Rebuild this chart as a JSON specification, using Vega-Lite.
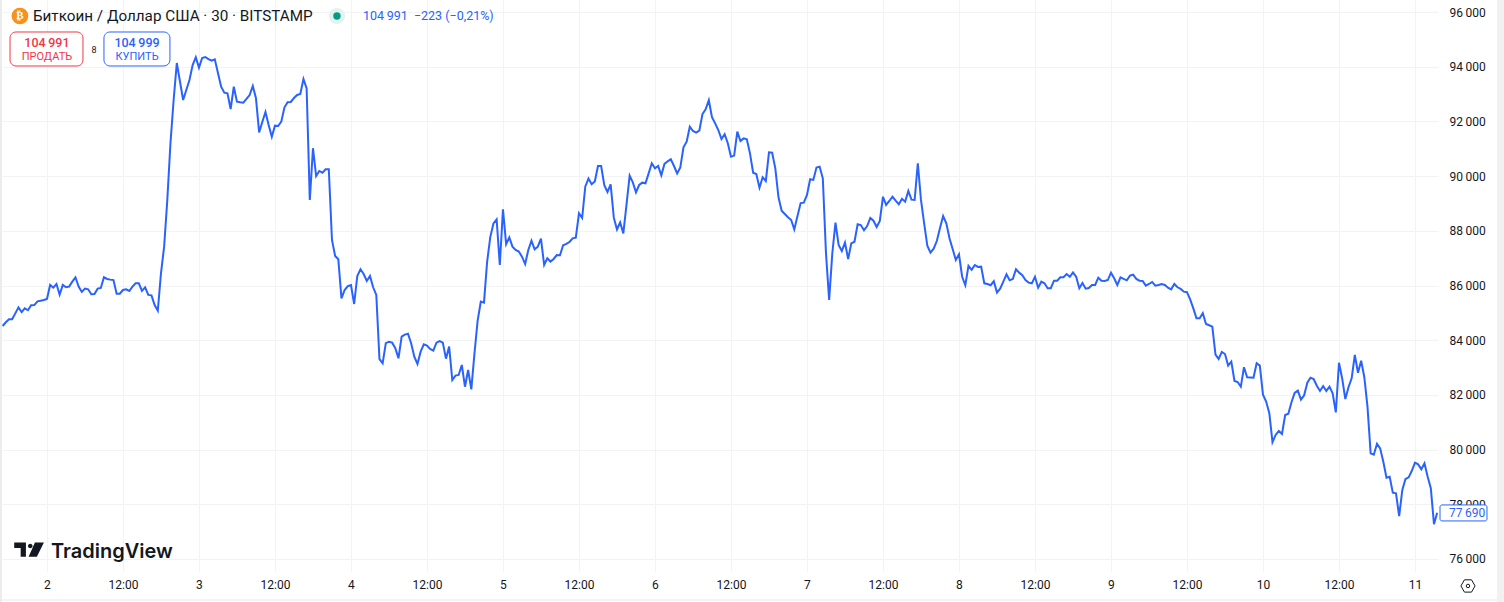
{"$schema":"https://vega.github.io/schema/vega-lite/v6.json","width":1436,"height":571,"autosize":{"type":"none"},"padding":{"left":2,"top":0,"right":66,"bottom":31},"background":"#ffffff","config":{"view":{"stroke":null},"font":"Roboto"},
"layer":[
{"data":{"values":[
{"t":"2025-04-01T17:00","v":84520},{"t":"2025-04-01T17:30","v":84655},{"t":"2025-04-01T18:00","v":84765},{"t":"2025-04-01T18:30","v":84765},{"t":"2025-04-01T19:00","v":84980},{"t":"2025-04-01T19:30","v":85200},{"t":"2025-04-01T20:00","v":85030},{"t":"2025-04-01T20:30","v":85165},{"t":"2025-04-01T21:00","v":85095},{"t":"2025-04-01T21:30","v":85275},{"t":"2025-04-01T22:00","v":85285},{"t":"2025-04-01T22:30","v":85420},{"t":"2025-04-01T23:00","v":85445},{"t":"2025-04-01T23:30","v":85470},
{"t":"2025-04-02T00:00","v":85505},{"t":"2025-04-02T00:30","v":86020},{"t":"2025-04-02T01:00","v":85920},{"t":"2025-04-02T01:30","v":86055},{"t":"2025-04-02T02:00","v":85665},{"t":"2025-04-02T02:30","v":86020},{"t":"2025-04-02T03:00","v":85935},{"t":"2025-04-02T03:30","v":85960},{"t":"2025-04-02T04:00","v":86140},{"t":"2025-04-02T04:30","v":86300},{"t":"2025-04-02T05:00","v":85960},{"t":"2025-04-02T05:30","v":85765},{"t":"2025-04-02T06:00","v":85885},{"t":"2025-04-02T06:30","v":85860},{"t":"2025-04-02T07:00","v":85680},{"t":"2025-04-02T07:30","v":85690},{"t":"2025-04-02T08:00","v":85885},{"t":"2025-04-02T08:30","v":85910},{"t":"2025-04-02T09:00","v":86300},{"t":"2025-04-02T09:30","v":86240},{"t":"2025-04-02T10:00","v":86215},{"t":"2025-04-02T10:30","v":86200},{"t":"2025-04-02T11:00","v":85700},{"t":"2025-04-02T11:30","v":85700},{"t":"2025-04-02T12:00","v":85835},{"t":"2025-04-02T12:30","v":85860},{"t":"2025-04-02T13:00","v":85800},{"t":"2025-04-02T13:30","v":85960},{"t":"2025-04-02T14:00","v":86080},{"t":"2025-04-02T14:30","v":86080},{"t":"2025-04-02T15:00","v":85800},{"t":"2025-04-02T15:30","v":85935},{"t":"2025-04-02T16:00","v":85655},{"t":"2025-04-02T16:30","v":85640},{"t":"2025-04-02T17:00","v":85285},{"t":"2025-04-02T17:30","v":85080},{"t":"2025-04-02T18:00","v":86445},{"t":"2025-04-02T18:30","v":87420},{"t":"2025-04-02T19:00","v":89127},{"t":"2025-04-02T19:30","v":91210},{"t":"2025-04-02T20:00","v":92783},{"t":"2025-04-02T20:30","v":94135},{"t":"2025-04-02T21:00","v":93460},{"t":"2025-04-02T21:30","v":92783},{"t":"2025-04-02T22:00","v":93148},{"t":"2025-04-02T22:30","v":93514},{"t":"2025-04-02T23:00","v":94062},{"t":"2025-04-02T23:30","v":94344},
{"t":"2025-04-03T00:00","v":93965},{"t":"2025-04-03T00:30","v":94318},{"t":"2025-04-03T01:00","v":94355},{"t":"2025-04-03T01:30","v":94280},{"t":"2025-04-03T02:00","v":94220},{"t":"2025-04-03T02:30","v":94270},{"t":"2025-04-03T03:00","v":93770},{"t":"2025-04-03T03:30","v":93270},{"t":"2025-04-03T04:00","v":93050},{"t":"2025-04-03T04:30","v":93025},{"t":"2025-04-03T05:00","v":92454},{"t":"2025-04-03T05:30","v":93270},{"t":"2025-04-03T06:00","v":92720},{"t":"2025-04-03T06:30","v":92700},{"t":"2025-04-03T07:00","v":92685},{"t":"2025-04-03T07:30","v":92820},{"t":"2025-04-03T08:00","v":92965},{"t":"2025-04-03T08:30","v":93295},{"t":"2025-04-03T09:00","v":92845},{"t":"2025-04-03T09:30","v":91600},{"t":"2025-04-03T10:00","v":91978},{"t":"2025-04-03T10:30","v":92344},{"t":"2025-04-03T11:00","v":91870},{"t":"2025-04-03T11:30","v":91440},{"t":"2025-04-03T12:00","v":91845},{"t":"2025-04-03T12:30","v":91830},{"t":"2025-04-03T13:00","v":91990},{"t":"2025-04-03T13:30","v":92515},{"t":"2025-04-03T14:00","v":92700},{"t":"2025-04-03T14:30","v":92710},{"t":"2025-04-03T15:00","v":92855},{"t":"2025-04-03T15:30","v":92965},{"t":"2025-04-03T16:00","v":93000},{"t":"2025-04-03T16:30","v":93550},{"t":"2025-04-03T17:00","v":93210},{"t":"2025-04-03T17:30","v":89127},{"t":"2025-04-03T18:00","v":91020},{"t":"2025-04-03T18:30","v":90004},{"t":"2025-04-03T19:00","v":90187},{"t":"2025-04-03T19:30","v":90125},{"t":"2025-04-03T20:00","v":90250},{"t":"2025-04-03T20:30","v":90250},{"t":"2025-04-03T21:00","v":87664},{"t":"2025-04-03T21:30","v":87080},{"t":"2025-04-03T22:00","v":86960},{"t":"2025-04-03T22:30","v":85530},{"t":"2025-04-03T23:00","v":85835},{"t":"2025-04-03T23:30","v":85980},
{"t":"2025-04-04T00:00","v":86015},{"t":"2025-04-04T00:30","v":85325},{"t":"2025-04-04T01:00","v":86350},{"t":"2025-04-04T01:30","v":86595},{"t":"2025-04-04T02:00","v":86420},{"t":"2025-04-04T02:30","v":86165},{"t":"2025-04-04T03:00","v":86350},{"t":"2025-04-04T03:30","v":85935},{"t":"2025-04-04T04:00","v":85655},{"t":"2025-04-04T04:30","v":83305},{"t":"2025-04-04T05:00","v":83155},{"t":"2025-04-04T05:30","v":83890},{"t":"2025-04-04T06:00","v":83945},{"t":"2025-04-04T06:30","v":83910},{"t":"2025-04-04T07:00","v":83705},{"t":"2025-04-04T07:30","v":83340},{"t":"2025-04-04T08:00","v":84130},{"t":"2025-04-04T08:30","v":84205},{"t":"2025-04-04T09:00","v":84240},{"t":"2025-04-04T09:30","v":83890},{"t":"2025-04-04T10:00","v":83400},{"t":"2025-04-04T10:30","v":83130},{"t":"2025-04-04T11:00","v":83580},{"t":"2025-04-04T11:30","v":83850},{"t":"2025-04-04T12:00","v":83800},{"t":"2025-04-04T12:30","v":83680},{"t":"2025-04-04T13:00","v":83620},{"t":"2025-04-04T13:30","v":83910},{"t":"2025-04-04T14:00","v":83970},{"t":"2025-04-04T14:30","v":83910},{"t":"2025-04-04T15:00","v":83325},{"t":"2025-04-04T15:30","v":83765},{"t":"2025-04-04T16:00","v":82545},{"t":"2025-04-04T16:30","v":82705},{"t":"2025-04-04T17:00","v":82730},{"t":"2025-04-04T17:30","v":83095},{"t":"2025-04-04T18:00","v":82300},{"t":"2025-04-04T18:30","v":82910},{"t":"2025-04-04T19:00","v":82205},{"t":"2025-04-04T19:30","v":83520},{"t":"2025-04-04T20:00","v":84715},{"t":"2025-04-04T20:30","v":85410},{"t":"2025-04-04T21:00","v":85375},{"t":"2025-04-04T21:30","v":86870},{"t":"2025-04-04T22:00","v":87780},{"t":"2025-04-04T22:30","v":88270},{"t":"2025-04-04T23:00","v":88415},{"t":"2025-04-04T23:30","v":86750},
{"t":"2025-04-05T00:00","v":88785},{"t":"2025-04-05T00:30","v":87510},{"t":"2025-04-05T01:00","v":87760},{"t":"2025-04-05T01:30","v":87420},{"t":"2025-04-05T02:00","v":87300},{"t":"2025-04-05T02:30","v":87240},{"t":"2025-04-05T03:00","v":87055},{"t":"2025-04-05T03:30","v":86785},{"t":"2025-04-05T04:00","v":87300},{"t":"2025-04-05T04:30","v":87640},{"t":"2025-04-05T05:00","v":87325},{"t":"2025-04-05T05:30","v":87420},{"t":"2025-04-05T06:00","v":87715},{"t":"2025-04-05T06:30","v":86750},{"t":"2025-04-05T07:00","v":86995},{"t":"2025-04-05T07:30","v":86875},{"t":"2025-04-05T08:00","v":86970},{"t":"2025-04-05T08:30","v":87115},{"t":"2025-04-05T09:00","v":87105},{"t":"2025-04-05T09:30","v":87470},{"t":"2025-04-05T10:00","v":87520},{"t":"2025-04-05T10:30","v":87590},{"t":"2025-04-05T11:00","v":87725},{"t":"2025-04-05T11:30","v":87750},{"t":"2025-04-05T12:00","v":88640},{"t":"2025-04-05T12:30","v":88470},{"t":"2025-04-05T13:00","v":89620},{"t":"2025-04-05T13:30","v":89910},{"t":"2025-04-05T14:00","v":89700},{"t":"2025-04-05T14:30","v":89800},{"t":"2025-04-05T15:00","v":90370},{"t":"2025-04-05T15:30","v":90370},{"t":"2025-04-05T16:00","v":89665},{"t":"2025-04-05T16:30","v":89420},{"t":"2025-04-05T17:00","v":89700},{"t":"2025-04-05T17:30","v":88480},{"t":"2025-04-05T18:00","v":88050},{"t":"2025-04-05T18:30","v":88310},{"t":"2025-04-05T19:00","v":87905},{"t":"2025-04-05T19:30","v":88945},{"t":"2025-04-05T20:00","v":90015},{"t":"2025-04-05T20:30","v":89770},{"t":"2025-04-05T21:00","v":89405},{"t":"2025-04-05T21:30","v":89675},{"t":"2025-04-05T22:00","v":89760},{"t":"2025-04-05T22:30","v":89735},{"t":"2025-04-05T23:00","v":90100},{"t":"2025-04-05T23:30","v":90470},
{"t":"2025-04-06T00:00","v":90285},{"t":"2025-04-06T00:30","v":90370},{"t":"2025-04-06T01:00","v":90030},{"t":"2025-04-06T01:30","v":90445},{"t":"2025-04-06T02:00","v":90540},{"t":"2025-04-06T02:30","v":90615},{"t":"2025-04-06T03:00","v":90370},{"t":"2025-04-06T03:30","v":90100},{"t":"2025-04-06T04:00","v":90320},{"t":"2025-04-06T04:30","v":91055},{"t":"2025-04-06T05:00","v":91260},{"t":"2025-04-06T05:30","v":91805},{"t":"2025-04-06T06:00","v":91650},{"t":"2025-04-06T06:30","v":91590},{"t":"2025-04-06T07:00","v":91660},{"t":"2025-04-06T07:30","v":92270},{"t":"2025-04-06T08:00","v":92445},{"t":"2025-04-06T08:30","v":92775},{"t":"2025-04-06T09:00","v":92155},{"t":"2025-04-06T09:30","v":91930},{"t":"2025-04-06T10:00","v":91685},{"t":"2025-04-06T10:30","v":91355},{"t":"2025-04-06T11:00","v":91530},{"t":"2025-04-06T11:30","v":91200},{"t":"2025-04-06T12:00","v":90710},{"t":"2025-04-06T12:30","v":90750},{"t":"2025-04-06T13:00","v":91625},{"t":"2025-04-06T13:30","v":91285},{"t":"2025-04-06T14:00","v":91380},{"t":"2025-04-06T14:30","v":91345},{"t":"2025-04-06T15:00","v":90830},{"t":"2025-04-06T15:30","v":90125},{"t":"2025-04-06T16:00","v":90075},{"t":"2025-04-06T16:30","v":89575},{"t":"2025-04-06T17:00","v":89955},{"t":"2025-04-06T17:30","v":89820},{"t":"2025-04-06T18:00","v":90870},{"t":"2025-04-06T18:30","v":90855},{"t":"2025-04-06T19:00","v":90285},{"t":"2025-04-06T19:30","v":89225},{"t":"2025-04-06T20:00","v":88735},{"t":"2025-04-06T20:30","v":88615},{"t":"2025-04-06T21:00","v":88495},{"t":"2025-04-06T21:30","v":88395},{"t":"2025-04-06T22:00","v":88050},{"t":"2025-04-06T22:30","v":88540},{"t":"2025-04-06T23:00","v":89015},{"t":"2025-04-06T23:30","v":89030},
{"t":"2025-04-07T00:00","v":89310},{"t":"2025-04-07T00:30","v":89885},{"t":"2025-04-07T01:00","v":89860},{"t":"2025-04-07T01:30","v":90310},{"t":"2025-04-07T02:00","v":90345},{"t":"2025-04-07T02:30","v":89920},{"t":"2025-04-07T03:00","v":87180},{"t":"2025-04-07T03:30","v":85470},{"t":"2025-04-07T04:00","v":87180},{"t":"2025-04-07T04:30","v":88300},{"t":"2025-04-07T05:00","v":87480},{"t":"2025-04-07T05:30","v":87260},{"t":"2025-04-07T06:00","v":87570},{"t":"2025-04-07T06:30","v":86970},{"t":"2025-04-07T07:00","v":87540},{"t":"2025-04-07T07:30","v":87600},{"t":"2025-04-07T08:00","v":88240},{"t":"2025-04-07T08:30","v":88210},{"t":"2025-04-07T09:00","v":88020},{"t":"2025-04-07T09:30","v":88175},{"t":"2025-04-07T10:00","v":88470},{"t":"2025-04-07T10:30","v":88370},{"t":"2025-04-07T11:00","v":88140},{"t":"2025-04-07T11:30","v":88360},{"t":"2025-04-07T12:00","v":89245},{"t":"2025-04-07T12:30","v":88945},{"t":"2025-04-07T13:00","v":89090},{"t":"2025-04-07T13:30","v":89245},{"t":"2025-04-07T14:00","v":89100},{"t":"2025-04-07T14:30","v":88970},{"t":"2025-04-07T15:00","v":89170},{"t":"2025-04-07T15:30","v":89065},{"t":"2025-04-07T16:00","v":89455},{"t":"2025-04-07T16:30","v":89140},{"t":"2025-04-07T17:00","v":89130},{"t":"2025-04-07T17:30","v":90470},{"t":"2025-04-07T18:00","v":89130},{"t":"2025-04-07T18:30","v":88275},{"t":"2025-04-07T19:00","v":87455},{"t":"2025-04-07T19:30","v":87200},{"t":"2025-04-07T20:00","v":87345},{"t":"2025-04-07T20:30","v":87625},{"t":"2025-04-07T21:00","v":88100},{"t":"2025-04-07T21:30","v":88540},{"t":"2025-04-07T22:00","v":88275},{"t":"2025-04-07T22:30","v":87725},{"t":"2025-04-07T23:00","v":87335},{"t":"2025-04-07T23:30","v":86935},
{"t":"2025-04-08T00:00","v":87140},{"t":"2025-04-08T00:30","v":86320},{"t":"2025-04-08T01:00","v":86010},{"t":"2025-04-08T01:30","v":86715},{"t":"2025-04-08T02:00","v":86570},{"t":"2025-04-08T02:30","v":86750},{"t":"2025-04-08T03:00","v":86680},{"t":"2025-04-08T03:30","v":86690},{"t":"2025-04-08T04:00","v":86080},{"t":"2025-04-08T04:30","v":86055},{"t":"2025-04-08T05:00","v":86010},{"t":"2025-04-08T05:30","v":86155},{"t":"2025-04-08T06:00","v":85740},{"t":"2025-04-08T06:30","v":85885},{"t":"2025-04-08T07:00","v":86140},{"t":"2025-04-08T07:30","v":86410},{"t":"2025-04-08T08:00","v":86190},{"t":"2025-04-08T08:30","v":86240},{"t":"2025-04-08T09:00","v":86595},{"t":"2025-04-08T09:30","v":86470},{"t":"2025-04-08T10:00","v":86375},{"t":"2025-04-08T10:30","v":86200},{"t":"2025-04-08T11:00","v":86105},{"t":"2025-04-08T11:30","v":86080},{"t":"2025-04-08T12:00","v":86320},{"t":"2025-04-08T12:30","v":85920},{"t":"2025-04-08T13:00","v":86140},{"t":"2025-04-08T13:30","v":86080},{"t":"2025-04-08T14:00","v":85900},{"t":"2025-04-08T14:30","v":85900},{"t":"2025-04-08T15:00","v":86175},{"t":"2025-04-08T15:30","v":86175},{"t":"2025-04-08T16:00","v":86300},{"t":"2025-04-08T16:30","v":86300},{"t":"2025-04-08T17:00","v":86420},{"t":"2025-04-08T17:30","v":86320},{"t":"2025-04-08T18:00","v":86480},{"t":"2025-04-08T18:30","v":86320},{"t":"2025-04-08T19:00","v":85900},{"t":"2025-04-08T19:30","v":86090},{"t":"2025-04-08T20:00","v":85885},{"t":"2025-04-08T20:30","v":85910},{"t":"2025-04-08T21:00","v":86020},{"t":"2025-04-08T21:30","v":86020},{"t":"2025-04-08T22:00","v":86285},{"t":"2025-04-08T22:30","v":86175},{"t":"2025-04-08T23:00","v":86165},{"t":"2025-04-08T23:30","v":86200},
{"t":"2025-04-09T00:00","v":86470},{"t":"2025-04-09T00:30","v":86265},{"t":"2025-04-09T01:00","v":86020},{"t":"2025-04-09T01:30","v":86300},{"t":"2025-04-09T02:00","v":86240},{"t":"2025-04-09T02:30","v":86190},{"t":"2025-04-09T03:00","v":86360},{"t":"2025-04-09T03:30","v":86395},{"t":"2025-04-09T04:00","v":86240},{"t":"2025-04-09T04:30","v":86175},{"t":"2025-04-09T05:00","v":86165},{"t":"2025-04-09T05:30","v":85995},{"t":"2025-04-09T06:00","v":86055},{"t":"2025-04-09T06:30","v":86130},{"t":"2025-04-09T07:00","v":85995},{"t":"2025-04-09T07:30","v":86020},{"t":"2025-04-09T08:00","v":86055},{"t":"2025-04-09T08:30","v":86020},{"t":"2025-04-09T09:00","v":85920},{"t":"2025-04-09T09:30","v":85860},{"t":"2025-04-09T10:00","v":86055},{"t":"2025-04-09T10:30","v":85935},{"t":"2025-04-09T11:00","v":85875},{"t":"2025-04-09T11:30","v":85775},{"t":"2025-04-09T12:00","v":85755},{"t":"2025-04-09T12:30","v":85495},{"t":"2025-04-09T13:00","v":85165},{"t":"2025-04-09T13:30","v":84800},{"t":"2025-04-09T14:00","v":84800},{"t":"2025-04-09T14:30","v":84985},{"t":"2025-04-09T15:00","v":84595},{"t":"2025-04-09T15:30","v":84545},{"t":"2025-04-09T16:00","v":84495},{"t":"2025-04-09T16:30","v":83470},{"t":"2025-04-09T17:00","v":83315},{"t":"2025-04-09T17:30","v":83570},{"t":"2025-04-09T18:00","v":83495},{"t":"2025-04-09T18:30","v":83070},{"t":"2025-04-09T19:00","v":83215},{"t":"2025-04-09T19:30","v":82510},{"t":"2025-04-09T20:00","v":82470},{"t":"2025-04-09T20:30","v":82300},{"t":"2025-04-09T21:00","v":83010},{"t":"2025-04-09T21:30","v":82645},{"t":"2025-04-09T22:00","v":82640},{"t":"2025-04-09T22:30","v":82630},{"t":"2025-04-09T23:00","v":83155},{"t":"2025-04-09T23:30","v":83070},
{"t":"2025-04-10T00:00","v":82010},{"t":"2025-04-10T00:30","v":81755},{"t":"2025-04-10T01:00","v":81330},{"t":"2025-04-10T01:30","v":80270},{"t":"2025-04-10T02:00","v":80535},{"t":"2025-04-10T02:30","v":80680},{"t":"2025-04-10T03:00","v":80570},{"t":"2025-04-10T03:30","v":81265},{"t":"2025-04-10T04:00","v":81310},{"t":"2025-04-10T04:30","v":81730},{"t":"2025-04-10T05:00","v":82070},{"t":"2025-04-10T05:30","v":82155},{"t":"2025-04-10T06:00","v":81825},{"t":"2025-04-10T06:30","v":81985},{"t":"2025-04-10T07:00","v":82445},{"t":"2025-04-10T07:30","v":82630},{"t":"2025-04-10T08:00","v":82580},{"t":"2025-04-10T08:30","v":82335},{"t":"2025-04-10T09:00","v":82145},{"t":"2025-04-10T09:30","v":82325},{"t":"2025-04-10T10:00","v":82145},{"t":"2025-04-10T10:30","v":82300},{"t":"2025-04-10T11:00","v":82055},{"t":"2025-04-10T11:30","v":81360},{"t":"2025-04-10T12:00","v":83175},{"t":"2025-04-10T12:30","v":82605},{"t":"2025-04-10T13:00","v":81850},{"t":"2025-04-10T13:30","v":82280},{"t":"2025-04-10T14:00","v":82605},{"t":"2025-04-10T14:30","v":83460},{"t":"2025-04-10T15:00","v":82810},{"t":"2025-04-10T15:30","v":83250},{"t":"2025-04-10T16:00","v":82645},{"t":"2025-04-10T16:30","v":81570},{"t":"2025-04-10T17:00","v":79865},{"t":"2025-04-10T17:30","v":79815},{"t":"2025-04-10T18:00","v":80215},{"t":"2025-04-10T18:30","v":80045},{"t":"2025-04-10T19:00","v":79555},{"t":"2025-04-10T19:30","v":78975},{"t":"2025-04-10T20:00","v":79010},{"t":"2025-04-10T20:30","v":78425},{"t":"2025-04-10T21:00","v":78400},{"t":"2025-04-10T21:30","v":77570},{"t":"2025-04-10T22:00","v":78525},{"t":"2025-04-10T22:30","v":78925},{"t":"2025-04-10T23:00","v":78985},{"t":"2025-04-10T23:30","v":79225},
{"t":"2025-04-11T00:00","v":79520},{"t":"2025-04-11T00:30","v":79460},{"t":"2025-04-11T01:00","v":79280},{"t":"2025-04-11T01:30","v":79500},{"t":"2025-04-11T02:00","v":79010},{"t":"2025-04-11T02:30","v":78585},{"t":"2025-04-11T03:00","v":77270},{"t":"2025-04-11T03:30","v":77690}
]},
"mark":{"type":"line","color":"#2962ff","strokeWidth":2,"clip":false},
"encoding":{
"x":{"field":"t","type":"temporal","title":null,"scale":{"domain":[{"year":2025,"month":4,"date":1,"hours":16,"minutes":54},{"year":2025,"month":4,"date":11,"hours":3,"minutes":38}],"nice":false},"axis":{"values":[{"year":2025,"month":4,"date":2},{"year":2025,"month":4,"date":2,"hours":12},{"year":2025,"month":4,"date":3},{"year":2025,"month":4,"date":3,"hours":12},{"year":2025,"month":4,"date":4},{"year":2025,"month":4,"date":4,"hours":12},{"year":2025,"month":4,"date":5},{"year":2025,"month":4,"date":5,"hours":12},{"year":2025,"month":4,"date":6},{"year":2025,"month":4,"date":6,"hours":12},{"year":2025,"month":4,"date":7},{"year":2025,"month":4,"date":7,"hours":12},{"year":2025,"month":4,"date":8},{"year":2025,"month":4,"date":8,"hours":12},{"year":2025,"month":4,"date":9},{"year":2025,"month":4,"date":9,"hours":12},{"year":2025,"month":4,"date":10},{"year":2025,"month":4,"date":10,"hours":12},{"year":2025,"month":4,"date":11}],"grid":true,"gridColor":"#f2f3f5","gridWidth":1,"domain":false,"ticks":false,"labelPadding":8,"labelFontSize":12,"labelColor":"#131722","labelFont":"Roboto","labelAngle":0,"labelOverlap":false,"labelFlush":false,"labelExpr":"hours(datum.value)==12?'12:00':''+date(datum.value)"}},
"y":{"field":"v","type":"quantitative","title":null,"scale":{"domain":[75561,96439],"nice":false,"zero":false},"axis":{"orient":"right","values":[76000,78000,80000,82000,84000,86000,88000,90000,92000,94000,96000],"grid":true,"gridColor":"#f2f3f5","gridWidth":1,"domain":false,"ticks":false,"labelPadding":11,"labelFontSize":12,"labelColor":"#131722","labelFont":"Roboto","labelExpr":"replace(format(datum.value,','),',','\u2009')"}}
}},
{"data":{"values":[{"k":"btc"}]},"mark":{"type":"point","filled":true,"size":280,"color":"#f7931a","opacity":1},"encoding":{"x":{"datum":{"year":2025,"month":4,"date":1,"hours":19,"minutes":44},"type":"temporal"},"y":{"datum":95854}}},
{"data":{"values":[{"label":"₿"}]},"mark":{"type":"text","color":"#ffffff","fontSize":11,"fontWeight":"bold","font":"DejaVu Sans"},"encoding":{"text":{"field":"label"},"x":{"datum":{"year":2025,"month":4,"date":1,"hours":19,"minutes":44},"type":"temporal"},"y":{"datum":95854}}},
{"data":{"values":[{"label":"Биткоин / Доллар США · 30 · BITSTAMP"}]},"mark":{"type":"text","align":"left","color":"#131722","fontSize":15.25,"font":"Roboto"},"encoding":{"text":{"field":"label"},"x":{"datum":{"year":2025,"month":4,"date":1,"hours":21,"minutes":47},"type":"temporal"},"y":{"datum":95854}}},
{"data":{"values":[{"k":"halo"}]},"mark":{"type":"point","filled":true,"size":260,"color":"#dff3ef","opacity":1},"encoding":{"x":{"datum":{"year":2025,"month":4,"date":3,"hours":21,"minutes":47},"type":"temporal"},"y":{"datum":95854}}},
{"data":{"values":[{"k":"dot"}]},"mark":{"type":"point","filled":true,"size":55,"color":"#089981","opacity":1},"encoding":{"x":{"datum":{"year":2025,"month":4,"date":3,"hours":21,"minutes":47},"type":"temporal"},"y":{"datum":95854}}},
{"data":{"values":[{"label":"104\u2009991\u00a0\u00a0−223 (−0,21%)"}]},"mark":{"type":"text","align":"left","color":"#2962ff","fontSize":12.5,"font":"Roboto"},"encoding":{"text":{"field":"label"},"x":{"datum":{"year":2025,"month":4,"date":4,"hours":1,"minutes":54},"type":"temporal"},"y":{"datum":95854}}},
{"data":{"values":[{"k":"sell"}]},"mark":{"type":"rect","fill":"#ffffff","stroke":"#f23645","strokeWidth":1,"cornerRadius":6},"encoding":{"x":{"datum":{"year":2025,"month":4,"date":1,"hours":18,"minutes":10},"type":"temporal"},"x2":{"datum":{"year":2025,"month":4,"date":2,"hours":5,"minutes":41}},"y":{"datum":95269},"y2":{"datum":94026}}},
{"data":{"values":[{"label":"104\u2009991"}]},"mark":{"type":"text","color":"#f23645","fontSize":12.5,"fontWeight":500,"font":"Roboto"},"encoding":{"text":{"field":"label"},"x":{"datum":{"year":2025,"month":4,"date":2,"hours":0,"minutes":0},"type":"temporal"},"y":{"datum":94867}}},
{"data":{"values":[{"label":"ПРОДАТЬ"}]},"mark":{"type":"text","color":"#f23645","fontSize":11,"font":"Roboto"},"encoding":{"text":{"field":"label"},"x":{"datum":{"year":2025,"month":4,"date":2,"hours":0,"minutes":0},"type":"temporal"},"y":{"datum":94355}}},
{"data":{"values":[{"label":"8"}]},"mark":{"type":"text","color":"#131722","fontSize":9,"font":"Roboto"},"encoding":{"text":{"field":"label"},"x":{"datum":{"year":2025,"month":4,"date":2,"hours":7,"minutes":25},"type":"temporal"},"y":{"datum":94611}}},
{"data":{"values":[{"k":"buy"}]},"mark":{"type":"rect","fill":"#ffffff","stroke":"#2962ff","strokeWidth":1,"cornerRadius":6},"encoding":{"x":{"datum":{"year":2025,"month":4,"date":2,"hours":9,"minutes":0},"type":"temporal"},"x2":{"datum":{"year":2025,"month":4,"date":2,"hours":19,"minutes":25}},"y":{"datum":95269},"y2":{"datum":94026}}},
{"data":{"values":[{"label":"104\u2009999"}]},"mark":{"type":"text","color":"#2962ff","fontSize":12.5,"fontWeight":500,"font":"Roboto"},"encoding":{"text":{"field":"label"},"x":{"datum":{"year":2025,"month":4,"date":2,"hours":14,"minutes":13},"type":"temporal"},"y":{"datum":94867}}},
{"data":{"values":[{"label":"КУПИТЬ"}]},"mark":{"type":"text","color":"#2962ff","fontSize":11,"font":"Roboto"},"encoding":{"text":{"field":"label"},"x":{"datum":{"year":2025,"month":4,"date":2,"hours":14,"minutes":13},"type":"temporal"},"y":{"datum":94355}}},
{"data":{"values":[{"k":"logo"}]},"mark":{"type":"point","filled":true,"size":900,"color":"#131722","opacity":1,"shape":"M-.98 -.49L-.2 -.49L-.2 .45L-.55 .45L-.55 -.13L-.98 -.13ZM-.06 -.27a.15 .15 0 1 0 .3 0a.15 .15 0 1 0 -.3 0ZM.4 -.49L1 -.49L.53 .45L-.02 .45Z"},"encoding":{"x":{"datum":{"year":2025,"month":4,"date":1,"hours":21,"minutes":9},"type":"temporal"},"y":{"datum":76331}}},
{"data":{"values":[{"label":"TradingView"}]},"mark":{"type":"text","align":"left","color":"#131722","fontSize":20,"fontWeight":600,"font":"Inter"},"encoding":{"text":{"field":"label"},"x":{"datum":{"year":2025,"month":4,"date":2,"hours":0,"minutes":38},"type":"temporal"},"y":{"datum":76270}}},
{"data":{"values":[{"k":"last"}]},"mark":{"type":"rect","fill":"#ffffff","stroke":"#2962ff","strokeWidth":1,"cornerRadius":2},"encoding":{"x":{"datum":{"year":2025,"month":4,"date":11,"hours":3,"minutes":57},"type":"temporal"},"x2":{"datum":{"year":2025,"month":4,"date":11,"hours":11,"minutes":22}},"y":{"datum":77976},"y2":{"datum":77391}}},
{"data":{"values":[{"label":"77\u2009690"}]},"mark":{"type":"text","align":"left","color":"#2962ff","fontSize":12,"font":"Roboto"},"encoding":{"text":{"field":"label"},"x":{"datum":{"year":2025,"month":4,"date":11,"hours":5,"minutes":22},"type":"temporal"},"y":{"datum":77683}}},
{"data":{"values":[{"k":"gear"}]},"mark":{"type":"point","filled":false,"size":200,"stroke":"#131722","strokeWidth":1,"opacity":1,"shape":"M-1 0L-.5 -.87L.5 -.87L1 0L.5 .87L-.5 .87Z"},"encoding":{"x":{"datum":{"year":2025,"month":4,"date":11,"hours":8,"minutes":22},"type":"temporal"},"y":{"datum":75014}}},
{"data":{"values":[{"k":"gear dot"}]},"mark":{"type":"point","filled":false,"size":12,"stroke":"#131722","strokeWidth":1,"opacity":1},"encoding":{"x":{"datum":{"year":2025,"month":4,"date":11,"hours":8,"minutes":22},"type":"temporal"},"y":{"datum":75014}}},
{"data":{"values":[{"k":"left edge"}]},"mark":{"type":"rect","fill":"#ececec"},"encoding":{"x":{"datum":{"year":2025,"month":4,"date":1,"hours":16,"minutes":35},"type":"temporal"},"x2":{"datum":{"year":2025,"month":4,"date":1,"hours":16,"minutes":54}},"y":{"datum":96439},"y2":{"datum":74430}}},
{"data":{"values":[{"k":"right edge"}]},"mark":{"type":"rect","fill":"#f1f1f1"},"encoding":{"x":{"datum":{"year":2025,"month":4,"date":11,"hours":12,"minutes":57},"type":"temporal"},"x2":{"datum":{"year":2025,"month":4,"date":11,"hours":14,"minutes":3}},"y":{"datum":96439},"y2":{"datum":74430}}},
{"data":{"values":[{"k":"bottom edge"}]},"mark":{"type":"rect","fill":"#e9e9e9"},"encoding":{"x":{"datum":{"year":2025,"month":4,"date":1,"hours":16,"minutes":35},"type":"temporal"},"x2":{"datum":{"year":2025,"month":4,"date":11,"hours":12,"minutes":57}},"y":{"datum":74521},"y2":{"datum":74485}}}
]}
